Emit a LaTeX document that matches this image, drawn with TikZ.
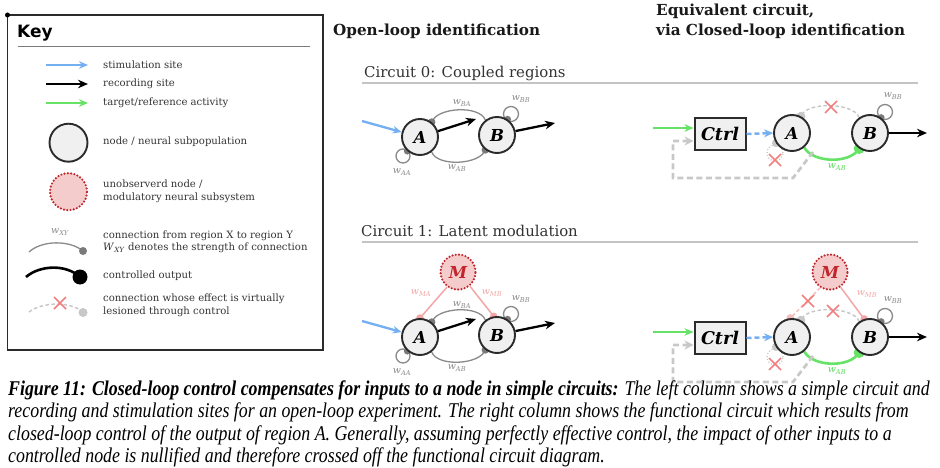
\documentclass[tikz,border=0pt]{standalone}
\usepackage{fontspec}
\setmainfont{DejaVu Serif}
\newfontfamily\capfont[FakeStretch=0.85]{Liberation Serif}
\newfontfamily\keyfont{DejaVu Sans}
\usetikzlibrary{arrows.meta,calc,backgrounds}
\definecolor{ndraw}{HTML}{2B2B2B}
\definecolor{nfill}{HTML}{F0F0F0}
\definecolor{sblue}{HTML}{74AFF2}
\definecolor{tgreen}{HTML}{66E266}
\definecolor{cgray}{HTML}{8A8A8A}
\definecolor{dgray}{HTML}{7A7A7A}
\definecolor{lgray}{HTML}{C8C8C8}
\definecolor{xred}{HTML}{F08080}
\definecolor{pinkl}{HTML}{F2A6A6}
\definecolor{pinkd}{HTML}{F5BDBD}
\definecolor{mred}{HTML}{C0262C}
\definecolor{mfill}{HTML}{F5CCCC}
\definecolor{ktext}{HTML}{333333}
\definecolor{rulec}{HTML}{C4C4C4}
\definecolor{wgreen}{HTML}{5ED85E}
\newcommand{\wsub}[1]{\textit{w}\textsubscript{\textit{#1}}}
\tikzset{xmk/.pic={\draw[xred,line width=1.5pt] (-6,-6) -- (6,6) (-6,6) -- (6,-6);}}
\begin{document}
\begin{tikzpicture}[x=1pt,y=-1pt,
  nd/.style={circle,draw=ndraw,line width=1.9pt,fill=nfill,minimum size=36pt,inner sep=0pt,font=\bfseries\itshape\fontsize{16.5}{16.5}\selectfont},
  mnd/.style={circle,draw=mred,line width=2.4pt,dash pattern=on 0pt off 3.3pt,line cap=round,fill=mfill,minimum size=35pt,inner sep=0pt,text=mred,font=\bfseries\itshape\fontsize{16.5}{16.5}\selectfont},
  ctrlbox/.style={rectangle,draw=ndraw,line width=2pt,fill=nfill,minimum width=51pt,minimum height=32pt,inner sep=0pt,font=\bfseries\itshape\fontsize{17.5}{17.5}\selectfont},
  conn/.style={draw=cgray,line width=1.3pt},
  lesion/.style={draw=lgray,line width=1.5pt,dash pattern=on 3.5pt off 2.5pt},
  lesdot/.style={draw=lgray,line width=1.3pt,dash pattern=on 1pt off 2pt},
  pinkline/.style={draw=pinkl,line width=1.5pt},
  pinkdash/.style={draw=pinkd,line width=1.5pt,dash pattern=on 3.5pt off 2.5pt},
  wl/.style={font=\itshape\fontsize{9.5}{9.5}\selectfont,text=cgray,inner sep=0pt},
  stim/.style={draw=sblue,line width=2.3pt,-{Stealth[length=9pt,width=7.5pt]}},
  stimd/.style={draw=sblue,line width=2.4pt,dash pattern=on 5pt off 3pt,-{Stealth[length=9pt,width=8pt]}},
  rec/.style={draw=black,line width=2.3pt,-{Stealth[length=10pt,width=8.5pt]}},
  tgt/.style={draw=tgreen,line width=2.3pt,-{Stealth[length=9pt,width=7.5pt]}},
  tline/.style={draw=tgreen,line width=2.6pt},
  fb/.style={draw=lgray,line width=2.7pt,dash pattern=on 6pt off 3.5pt,-{Stealth[length=9pt,width=9pt]}},
  keytxt/.style={anchor=west,font=\fontsize{10.1}{12.5}\selectfont,text=ktext,inner sep=0pt,align=left},
  headtxt/.style={anchor=base west,inner sep=0pt,font=\bfseries\fontsize{15.2}{15.2}\selectfont,text=black!90},
  circtxt/.style={anchor=base west,inner sep=0pt,font=\fontsize{14.9}{14.9}\selectfont,text=ktext},
  ruleline/.style={draw=rulec,line width=1.5pt},
  captxt/.style={anchor=base west,inner sep=0pt,font=\capfont\itshape\fontsize{21}{21}\selectfont,text=black}
]
\useasboundingbox (0,0) rectangle (940,468);

% ---------------- Key ----------------
\draw[ndraw,line width=1.6pt] (7.5,15) rectangle (323,350);
\fill[black] (7.5,15) circle (2.5pt);
\node[anchor=base west,inner sep=0pt,font=\keyfont\bfseries\fontsize{17}{17}\selectfont] (keyt) at (17,38) {Key};
\draw[dgray,line width=0.9pt] (18,46.5) -- (310,46.5);
\draw[stim] (46,65) -- (88,65);
\node[keytxt] at (103,65) {stimulation site};
\draw[rec] (46,84) -- (88,84);
\node[keytxt] at (103,84) {recording site};
\draw[tgt] (46,103) -- (88,103);
\node[keytxt] at (103,103) {target/reference activity};
\node[nd,minimum size=38pt] (kn) at (68.5,142.7) {};
\node[keytxt] at (103,142) {node / neural subpopulation};
\node[mnd,minimum size=37pt] (km) at (68.5,191.7) {};
\node[keytxt] at (103,191.5) {unobserverd node /\\modulatory neural subsystem};
\node[wl] at (60,232) {\wsub{XY}};
\draw[conn] (29,252) .. controls (42,240) and (70,240) .. (83,251);
\fill[dgray] (83,251) circle (4pt);
\node[keytxt] at (103,242) {connection from region X to region Y\\\textit{W}\textsubscript{\textit{XY}} denotes the strength of connection};
\draw[black,line width=2.6pt] (26,277) .. controls (40,265) and (66,264) .. (80,277);
\fill[black] (80,277) circle (7.5pt);
\node[keytxt] at (103,275.5) {controlled output};
\draw[lesion] (29,312) .. controls (42,302) and (70,301) .. (83,312);
\fill[lgray] (83,312.5) circle (4.5pt);
\pic at (60,303) {xmk};
\node[keytxt] at (103,305.5) {connection whose effect is virtually\\lesioned through control};

% ---------------- Headings ----------------
\node[headtxt] (h1) at (333,35.5) {Open-loop identification};
\node[headtxt] (h2) at (656,16) {Equivalent circuit,};
\node[headtxt] (h3) at (656,35.5) {via Closed-loop identification};
\node[circtxt] (c0) at (364,78) {Circuit 0: Coupled regions};
\draw[ruleline] (362,83) -- (918,83);
\node[circtxt] (c1) at (361,236) {Circuit 1: Latent modulation};
\draw[ruleline] (362,242) -- (918,242);

% ---------------- Circuit 0, open loop ----------------
\node[nd] (A0) at (420,137) {A};
\node[nd] (B0) at (497,135) {B};
\begin{scope}[on background layer]
  \draw[conn] (B0.128) .. controls +(110:16pt) and +(70:16pt) .. (A0.52);
  \fill[dgray] (A0.52) circle (3.8pt);
  \draw[conn] (A0.-52) .. controls +(-70:16pt) and +(-110:16pt) .. (B0.-128);
  \fill[dgray] (B0.-128) circle (3.8pt);
  \draw[conn] ($(A0)+(-17,19)$) circle (7pt);
  \fill[dgray] (A0.-132) circle (3.5pt);
  \draw[conn] ($(B0)+(14,-21)$) circle (7.5pt);
  \fill[dgray] (B0.56) circle (3.5pt);
\end{scope}
\node[wl] at (462,103) {\wsub{BA}};
\node[wl] at (457,168) {\wsub{AB}};
\node[wl] at (402,172) {\wsub{AA}};
\node[wl] at (521,99) {\wsub{BB}};
\coordinate (s0) at (362,121);
\draw[stim] (s0) -- (A0.165);
\coordinate (r0) at (476,119);
\draw[rec] (A0.18) -- (r0);
\coordinate (o0) at (555,123);
\draw[rec] (B0.12) -- (o0);

% ---------------- Circuit 0, closed loop ----------------
\node[ctrlbox] (C0) at (720,134) {Ctrl};
\node[nd] (A1) at (792,133) {A};
\node[nd] (B1) at (870,133) {B};
\begin{scope}[on background layer]
  \draw[lesion] (B1.125) .. controls +(110:16pt) and +(70:16pt) .. (A1.62);
  \fill[lgray] (A1.62) circle (4.5pt);
  \draw[tline] (A1.-50) .. controls +(-60:18pt) and +(-120:18pt) .. (B1.-125);
  \fill[tgreen] (B1.-125) circle (5.5pt);
  \draw[lesdot] ($(A1)+(-17,20)$) circle (8pt);
  \fill[lgray] (A1.-148) circle (4pt);
  \draw[conn] ($(B1)+(15,-21)$) circle (7.5pt);
  \fill[dgray] (B1.54) circle (3.5pt);
\end{scope}
\pic at (831,107) {xmk};
\pic at (775,160) {xmk};
\node[wl,text=wgreen] at (837,167) {\wsub{AB}};
\node[wl] at (893,96) {\wsub{BB}};
\coordinate (g0) at (653,128);
\draw[tgt] (g0) -- (g0 -| C0.west);
\draw[stimd] (C0.east) -- (A1.west);
\coordinate (f0) at (813,152);
\draw[fb] (f0) -- ++(-20,26) -- ++(-120,0) |- ($(C0.west)+(0,7)$);
\coordinate (o1) at (927,133);
\draw[rec] (B1.east) -- (o1);

% ---------------- Circuit 1, open loop ----------------
\node[mnd] (M0) at (458,272) {M};
\node[nd] (A2) at (420,337) {A};
\node[nd] (B2) at (497,335) {B};
\begin{scope}[on background layer]
  \draw[pinkline] (M0.-126) -- (A2.90);
  \fill[pinkl] (A2.90) circle (3.8pt);
  \draw[pinkline] (M0.-50) -- (B2.100);
  \fill[pinkl] (B2.100) circle (3.8pt);
  \draw[conn] (B2.128) .. controls +(110:16pt) and +(70:16pt) .. (A2.52);
  \fill[dgray] (A2.52) circle (3.8pt);
  \draw[conn] (A2.-52) .. controls +(-70:16pt) and +(-110:16pt) .. (B2.-128);
  \fill[dgray] (B2.-128) circle (3.8pt);
  \draw[conn] ($(A2)+(-17,19)$) circle (7pt);
  \fill[dgray] (A2.-132) circle (3.5pt);
  \draw[conn] ($(B2)+(14,-21)$) circle (7.5pt);
  \fill[dgray] (B2.56) circle (3.5pt);
\end{scope}
\node[wl,text=pinkl] at (421,293) {\wsub{MA}};
\node[wl,text=pinkl] at (492,293) {\wsub{MB}};
\node[wl] at (462,305) {\wsub{BA}};
\node[wl] at (457,368) {\wsub{AB}};
\node[wl] at (402,372) {\wsub{AA}};
\node[wl] at (521,299) {\wsub{BB}};
\coordinate (s1) at (362,321);
\draw[stim] (s1) -- (A2.165);
\coordinate (r1) at (476,319);
\draw[rec] (A2.18) -- (r1);
\coordinate (o2) at (555,323);
\draw[rec] (B2.12) -- (o2);

% ---------------- Circuit 1, closed loop ----------------
\node[mnd] (M1) at (830,272) {M};
\node[ctrlbox] (C1) at (720,338) {Ctrl};
\node[nd] (A3) at (792,337) {A};
\node[nd] (B3) at (870,337) {B};
\begin{scope}[on background layer]
  \draw[pinkdash] (M1.-122) -- (A3.95);
  \fill[pinkd] (A3.95) circle (4pt);
  \draw[pinkline] (M1.-55) -- (B3.108);
  \fill[pinkl] (B3.108) circle (3.8pt);
  \draw[lesion] (B3.125) .. controls +(110:16pt) and +(70:16pt) .. (A3.62);
  \fill[lgray] (A3.62) circle (4.5pt);
  \draw[tline] (A3.-50) .. controls +(-60:18pt) and +(-120:18pt) .. (B3.-125);
  \fill[tgreen] (B3.-125) circle (5.5pt);
  \draw[lesdot] ($(A3)+(-17,20)$) circle (8pt);
  \fill[lgray] (A3.-148) circle (4pt);
  \draw[conn] ($(B3)+(15,-21)$) circle (7.5pt);
  \fill[dgray] (B3.54) circle (3.5pt);
\end{scope}
\pic at (808,301) {xmk};
\pic at (833,311) {xmk};
\pic at (775,364) {xmk};
\node[wl,text=pinkl] at (867,294) {\wsub{MB}};
\node[wl,text=wgreen] at (837,371) {\wsub{AB}};
\node[wl] at (893,300) {\wsub{BB}};
\coordinate (g1) at (653,332);
\draw[tgt] (g1) -- (g1 -| C1.west);
\draw[stimd] (C1.east) -- (A3.west);
\coordinate (f1) at (813,356);
\draw[fb] (f1) -- ++(-20,26) -- ++(-120,0) |- ($(C1.west)+(0,7)$);
\coordinate (o3) at (927,337);
\draw[rec] (B3.east) -- (o3);

% ---------------- Caption ----------------
\node[captxt] (l1) at (8,395) {{\bfseries Figure 11: Closed-loop control compensates for inputs to a node in simple circuits:} The left column shows a simple circuit and};
\node[captxt] (l2) at (8,417.5) {recording and stimulation sites for an open-loop experiment. The right column shows the functional circuit which results from};
\node[captxt] (l3) at (8,440) {closed-loop control of the output of region A. Generally, assuming perfectly effective control, the impact of other inputs to a};
\node[captxt] (l4) at (8,462.5) {controlled node is nullified and therefore crossed off the functional circuit diagram.};
\end{tikzpicture}
\end{document}
